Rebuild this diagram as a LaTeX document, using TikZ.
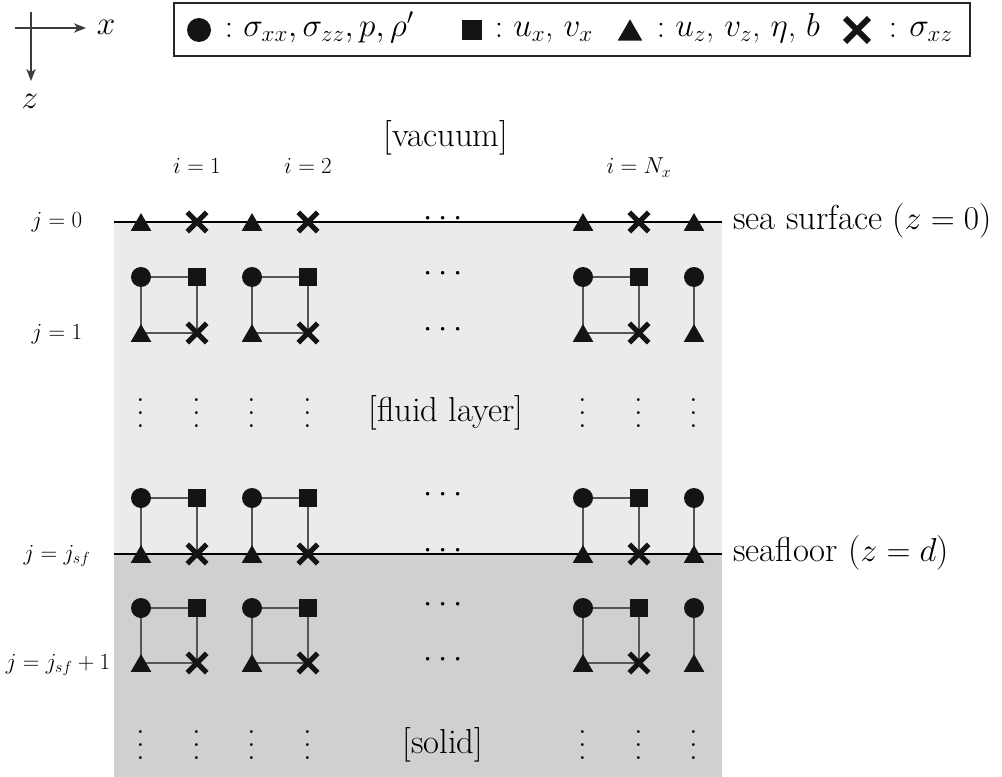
\documentclass[tikz,border=0pt]{standalone}
\usepackage{fontspec}
\usetikzlibrary{shapes.geometric,shapes.misc,arrows.meta}
\pgfdeclarelayer{fills}
\pgfdeclarelayer{links}
\pgfsetlayers{fills,links,main}
\definecolor{fluidgray}{RGB}{235,235,235}
\definecolor{solidgray}{RGB}{207,208,208}
\definecolor{markblack}{RGB}{20,20,20}
\definecolor{linkgray}{RGB}{85,85,85}
\definecolor{axisgray}{RGB}{60,60,60}
\newcommand{\myvd}{\vbox{\baselineskip=9.7pt\lineskiplimit=0pt\hbox{.}\hbox{.}\hbox{.}}}
\tikzset{
  circmark/.style={circle,fill=markblack,inner sep=0pt,minimum size=15pt},
  sqmark/.style={rectangle,fill=markblack,inner sep=0pt,minimum size=12.8pt},
  trimark/.style={rectangle,inner sep=0pt,minimum width=15.5pt,minimum height=13.4pt,
    path picture={\fill[markblack] (path picture bounding box.south west) --
      (path picture bounding box.south east) -- (path picture bounding box.north) -- cycle;}},
  crossmark/.style={cross out,draw=markblack,line width=3.8pt,inner sep=0pt,minimum size=10.8pt},
  link/.style={draw=linkgray,line width=0.9pt},
  mainlbl/.style={font=\fontsize{26}{31}\selectfont,inner sep=0pt},
  leglbl/.style={font=\fontsize{25}{30}\selectfont,inner sep=0pt},
  smalllbl/.style={font=\fontsize{17}{20}\selectfont,inner sep=0pt},
  boundary/.style={draw=black,line width=1.1pt},
  axisarrow/.style={draw=axisgray,line width=1.1pt,-{Stealth[length=9pt,width=7pt,inset=2.5pt]}},
}
\begin{document}
\begin{tikzpicture}[x=0.75pt,y=-0.75pt]
\useasboundingbox (0,0) rectangle (1002,777);

% axes
\coordinate (axl) at (15,28);
\coordinate (axr) at (86,28);
\coordinate (axt) at (31,12);
\coordinate (axb) at (31,81);
\draw[axisarrow] (axl) -- (axr);
\draw[axisarrow] (axt) -- (axb);
\node[mainlbl] (xlab) at (106,27) {$x$};
\node[mainlbl] (zlab) at (30,101) {$z$};

% legend
\draw[line width=2pt,draw=black!85] (174,3) rectangle (970,56);
\node[circmark,minimum size=18pt] (lc) at (199,30) {};
\node[leglbl] (lcc) at (229,30) {$:$};
\node[leglbl,font=\fontsize{24}{29}\selectfont,anchor=base west] (lct) at (243,37) {$\sigma_{xx}, \sigma_{zz}, p, \rho'$};
\node[sqmark,minimum size=14.5pt] (ls) at (472,30) {};
\node[leglbl] (lsc) at (499,30) {$:$};
\node[leglbl,anchor=base west] (lst) at (513,37) {$u_x$, $v_x$};
\node[trimark,minimum width=18.5pt,minimum height=16pt] (lt) at (630,30) {};
\node[leglbl] (ltc) at (661,30) {$:$};
\node[leglbl,anchor=base west] (ltt) at (675,37) {$u_z$, $v_z$, $\eta$, $b$};
\node[crossmark,minimum size=13.5pt,line width=4.4pt] (lx) at (857,30) {};
\node[leglbl] (lxc) at (893,30) {$:$};
\node[leglbl,anchor=base west] (lxt) at (909,37) {$\sigma_{xz}$};

% layers
\begin{pgfonlayer}{fills}
\fill[fluidgray] (114,222) rectangle (722,554);
\fill[solidgray] (114,554) rectangle (722,777);
\end{pgfonlayer}
\draw[boundary] (114,222) -- (722,222);
\draw[boundary] (114,554) -- (722,554);

% labels
\node[mainlbl,anchor=base] (vac) at (446,147) {[vacuum]};
\node[mainlbl,anchor=base] (flu) at (446,421) {[fluid layer]};
\node[mainlbl,anchor=base] (sol) at (443,753) {[solid]};
\node[mainlbl,anchor=base west] (seas) at (733,229) {sea surface ($z = 0$)};
\node[mainlbl,anchor=base west] (seaf) at (733,561) {seafloor ($z = d$)};

\node[smalllbl,anchor=base] (i1) at (197,174) {$i = 1$};
\node[smalllbl,anchor=base] (i2) at (308,174) {$i = 2$};
\node[smalllbl,anchor=base] (iN) at (639,174) {$i = N_x$};

\node[smalllbl,anchor=base] (j0) at (57,228) {$j = 0$};
\node[smalllbl,anchor=base] (j1) at (57,339) {$j = 1$};
\node[smalllbl,anchor=base] (jsf) at (57,560) {$j = j_{sf}$};
\node[smalllbl,anchor=base] (jsf1) at (58,669) {$j = j_{sf} + 1$};

% surface row
\foreach \c/\x in {1/141,2/252,3/583,4/694}
  \node[trimark] (ts\c) at (\x,222) {};
\foreach \c/\x in {1/197,2/308,3/639}
  \node[crossmark] (xs\c) at (\x,222) {};

% cells
\foreach \r/\top/\bot in {a/277/333,b/498/554,c/608/663} {
  \foreach \c/\xa/\xb in {1/141/197,2/252/308,3/583/639} {
    \node[circmark] (c-\r\c) at (\xa,\top) {};
    \node[sqmark] (s-\r\c) at (\xb,\top) {};
    \node[trimark] (t-\r\c) at (\xa,\bot) {};
    \node[crossmark] (x-\r\c) at (\xb,\bot) {};
  }
  \node[circmark] (c-\r4) at (694,\top) {};
  \node[trimark] (t-\r4) at (694,\bot) {};
}
\begin{pgfonlayer}{links}
\foreach \r in {a,b,c} {
  \foreach \c in {1,2,3} {
    \draw[link] (c-\r\c.center) -- (s-\r\c.center);
    \draw[link] (c-\r\c.center) -- (t-\r\c.center);
    \draw[link] (s-\r\c.center) -- (x-\r\c.center);
    \draw[link] (t-\r\c.center) -- (x-\r\c.center);
  }
  \draw[link] (c-\r4.center) -- (t-\r4.center);
}
\end{pgfonlayer}

% horizontal dots
\foreach \y [count=\k] in {222,277,333,498,554,608,663}
  \node[mainlbl] (hd\k) at (443,\y-3) {$\cdots$};

% vertical dots
\foreach \x [count=\k] in {141,197,252,308,583,639,694} {
  \node[mainlbl] (vf\k) at (\x,413) {\myvd};
  \node[mainlbl] (vs\k) at (\x,745) {\myvd};
}
\end{tikzpicture}
\end{document}
